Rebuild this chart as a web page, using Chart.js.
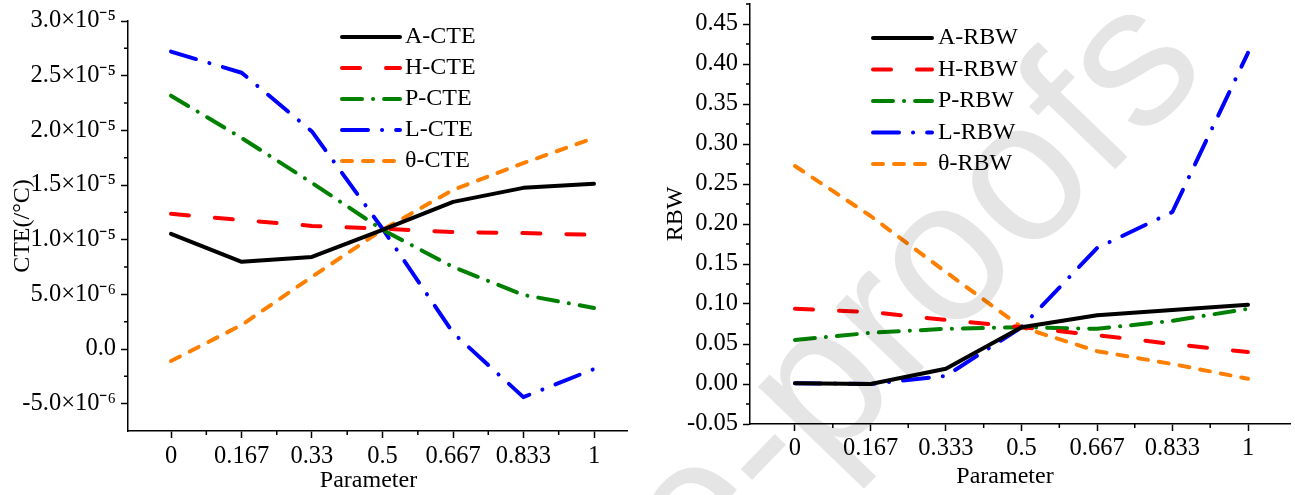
<!DOCTYPE html>
<html>
<head>
<meta charset="utf-8">
<title>CTE and RBW vs Parameter</title>
<script src="https://cdn.jsdelivr.net/npm/chart.js@4.4.1/dist/chart.umd.min.js"></script>
<style>
  body { margin: 0; background: #fff; width: 1295px; height: 495px; overflow: hidden; position: relative; }
  #cteChart { position: absolute; left: 0; top: 0; }
  #rbwChart { position: absolute; left: 645px; top: 0; }
  #mark { position: absolute; left: 0; top: 0; pointer-events: none; }
</style>
</head>
<body>

<canvas id="cteChart" width="645" height="495"></canvas>
<canvas id="rbwChart" width="650" height="495"></canvas>
<canvas id="mark" width="1295" height="495"></canvas>

<script>
// parameter positions and their printed tick labels
const params = [0, 0.167, 0.333, 0.5, 0.667, 0.833, 1];
const cteXLabels = ['0', '0.167', '0.33', '0.5', '0.667', '0.833', '1'];
const rbwXLabels = ['0', '0.167', '0.333', '0.5', '0.667', '0.833', '1'];

// y ticks
const cteYTicks = [-5e-6, 0, 5e-6, 1e-5, 1.5e-5, 2e-5, 2.5e-5, 3e-5];
const rbwYTicks = [-0.05, 0, 0.05, 0.1, 0.15, 0.2, 0.25, 0.3, 0.35, 0.4, 0.45];

// CTE (/°C)
const cteA = [1.053e-5, 7.97e-6, 8.42e-6, 1.09e-5, 1.346e-5, 1.474e-5, 1.511e-5];
const cteH = [1.236e-5, 1.18e-5, 1.126e-5, 1.10e-5, 1.07e-5, 1.06e-5, 1.044e-5];
const cteP = [2.317e-5, 1.93e-5, 1.52e-5, 1.09e-5, 7.5e-6, 4.95e-6, 3.75e-6];
const cteL = [2.72e-5, 2.527e-5, 1.99e-5, 1.10e-5, 1.47e-6, -4.4e-6, -1.83e-6];
const cteT = [-1.1e-6, 2.2e-6, 6.6e-6, 1.09e-5, 1.456e-5, 1.70e-5, 1.93e-5];

// RBW
const rbwA = [0.001, 0.0, 0.019, 0.071, 0.086, 0.0925, 0.099];
const rbwH = [0.094, 0.09, 0.08, 0.071, 0.061, 0.05, 0.04];
const rbwP = [0.055, 0.064, 0.069, 0.071, 0.069, 0.079, 0.094];
const rbwL = [0.001, 0.0, 0.01, 0.071, 0.17, 0.215, 0.414];
const rbwT = [0.2725, 0.21, 0.14, 0.071, 0.041, 0.025, 0.0065];

const watermarkText = 'Journal Pre-proofs';

const FONT = '"Liberation Serif", "Times New Roman", serif';

const sup = {'-': '\u207B', '0': '\u2070', '1': '\u00B9', '2': '\u00B2', '3': '\u00B3',
  '4': '\u2074', '5': '\u2075', '6': '\u2076', '7': '\u2077', '8': '\u2078', '9': '\u2079'};

function sci(v) {
  if (Math.abs(v) < 1e-12) return '0.0';
  const e = Math.floor(Math.log10(Math.abs(v)) + 1e-9);
  const m = (v / Math.pow(10, e)).toFixed(1);
  return m + '\u00D710' + String(e).split('').map(c => sup[c]).join('');
}

function pts(arr) {
  return params.map((p, i) => ({x: p, y: arr[i]}));
}

function midpoints(a) {
  return a.slice(1).map((v, i) => (v + a[i]) / 2);
}

const styles = {
  A: {color: '#000000', dash: []},
  H: {color: '#FF0000', dash: [18, 26]},
  P: {color: '#008000', dash: [20, 11, 0.1, 11]},
  L: {color: '#0000FF', dash: [26, 14, 0.1, 14]},
  T: {color: '#FF8000', dash: [10, 11]}
};

function ds(label, key, arr) {
  return {
    label: label,
    data: pts(arr),
    borderColor: styles[key].color,
    backgroundColor: styles[key].color,
    borderDash: styles[key].dash,
    borderWidth: 4,
    borderCapStyle: 'round',
    borderJoinStyle: 'round',
    pointRadius: 0,
    tension: 0,
    fill: false
  };
}

// legend drawn inside the plot, with the dash of each line
const lineLegend = {
  id: 'lineLegend',
  afterDatasetsDraw(chart, args, opts) {
    const ctx = chart.ctx;
    ctx.save();
    ctx.font = '24px ' + FONT;
    ctx.textBaseline = 'middle';
    ctx.textAlign = 'left';
    chart.data.datasets.forEach((d, i) => {
      const y = opts.top + i * opts.gap;
      ctx.strokeStyle = d.borderColor;
      ctx.lineWidth = d.borderWidth;
      ctx.lineCap = 'round';
      ctx.setLineDash(d.borderDash);
      ctx.beginPath();
      ctx.moveTo(opts.lineStart, y);
      ctx.lineTo(opts.lineEnd, y);
      ctx.stroke();
      ctx.setLineDash([]);
      ctx.fillStyle = '#000';
      ctx.fillText(d.label, opts.textX, y);
    });
    ctx.restore();
  }
};

// short minor ticks between the labelled ones
const minorTicks = {
  id: 'minorTicks',
  afterDraw(chart, args, opts) {
    const ctx = chart.ctx, xs = chart.scales.x, ys = chart.scales.y, area = chart.chartArea;
    ctx.save();
    ctx.strokeStyle = '#000';
    ctx.lineWidth = 1.5;
    ctx.beginPath();
    opts.x.forEach(v => {
      const px = xs.getPixelForValue(v);
      ctx.moveTo(px, area.bottom);
      ctx.lineTo(px, area.bottom + 4);
    });
    opts.y.forEach(v => {
      if (v < ys.min || v > ys.max) return;
      const py = ys.getPixelForValue(v);
      ctx.moveTo(area.left, py);
      ctx.lineTo(area.left - 4, py);
    });
    ctx.stroke();
    ctx.restore();
  }
};

function makeChart(id, cfg) {
  const tickFont = {family: FONT, size: 24.5};
  const titleFont = {family: FONT, size: 24};
  return new Chart(document.getElementById(id), {
    type: 'line',
    data: {datasets: cfg.datasets},
    plugins: [lineLegend, minorTicks],
    options: {
      responsive: false,
      animation: false,
      layout: {padding: cfg.padding},
      plugins: {
        legend: {display: false},
        tooltip: {enabled: false},
        lineLegend: cfg.legend,
        minorTicks: {x: midpoints(params), y: cfg.minorY}
      },
      scales: {
        x: {
          type: 'linear',
          min: cfg.xMin, max: cfg.xMax,
          afterBuildTicks: s => { s.ticks = params.map(v => ({value: v})); },
          afterFit: s => { s.height = cfg.xHeight; s.paddingLeft = 0; s.paddingRight = 0; },
          ticks: {
            autoSkip: false, maxRotation: 0, minRotation: 0, color: '#000',
            font: tickFont, padding: cfg.xTickPad,
            callback: (v, i) => cfg.xLabels[i]
          },
          grid: {drawOnChartArea: false, tickLength: 7, tickWidth: 1.5, tickColor: '#000'},
          border: {display: true, color: '#000', width: 1.5},
          title: {display: true, text: cfg.xTitle, color: '#000', font: titleFont, padding: {top: 0, bottom: cfg.xTitlePad}}
        },
        y: {
          type: 'linear',
          min: cfg.yMin, max: cfg.yMax,
          afterBuildTicks: s => { s.ticks = cfg.yTicks.map(v => ({value: v})); },
          afterFit: s => { s.width = cfg.yWidth; s.paddingTop = 0; s.paddingBottom = 0; },
          ticks: {
            autoSkip: false, color: '#000', font: tickFont, padding: 5,
            callback: cfg.yFormat
          },
          grid: {drawOnChartArea: false, tickLength: 7, tickWidth: 1.5, tickColor: '#000'},
          border: {display: true, color: '#000', width: 1.5},
          title: {display: true, text: cfg.yTitle, color: '#000', font: titleFont, padding: {top: cfg.yTitlePad, bottom: 0}}
        }
      }
    }
  });
}

makeChart('cteChart', {
  datasets: [ds('A-CTE', 'A', cteA), ds('H-CTE', 'H', cteH), ds('P-CTE', 'P', cteP),
             ds('L-CTE', 'L', cteL), ds('\u03B8-CTE', 'T', cteT)],
  padding: {top: 21, right: 18, left: 0, bottom: 0},
  xMin: -0.1017, xMax: 1.078, xHeight: 64, xTickPad: 4, xLabels: cteXLabels,
  xTitle: 'Parameter   ', xTitlePad: 0,
  yMin: -7.5e-6, yMax: 3e-5, yTicks: cteYTicks, yWidth: 128,
  minorY: midpoints(cteYTicks),
  yFormat: v => sci(v),
  yTitle: 'CTE(/\u00B0C)', yTitlePad: 8,
  legend: {top: 37, gap: 31, lineStart: 342, lineEnd: 400, textX: 405}
});

makeChart('rbwChart', {
  datasets: [ds('A-RBW', 'A', rbwA), ds('H-RBW', 'H', rbwH), ds('P-RBW', 'P', rbwP),
             ds('L-RBW', 'L', rbwL), ds('\u03B8-RBW', 'T', rbwT)],
  padding: {top: 4, right: 5, left: 0, bottom: 0},
  xMin: -0.0993, xMax: 1.0927, xHeight: 71, xTickPad: 3, xLabels: rbwXLabels,
  xTitle: 'Parameter     ', xTitlePad: 4,
  yMin: -0.05, yMax: 0.475, yTicks: rbwYTicks, yWidth: 105,
  minorY: midpoints(rbwYTicks).concat([0.475]),
  yFormat: v => v.toFixed(2),
  yTitle: 'RBW', yTitlePad: 16,
  legend: {top: 38, gap: 31.5, lineStart: 228, lineEnd: 287, textX: 293}
});

// faint journal watermark over the right plot
const wm = document.getElementById('mark').getContext('2d');
wm.translate(1211, 70);
wm.rotate(-46 * Math.PI / 180);
wm.font = '200px "Liberation Sans", Arial, sans-serif';
wm.textAlign = 'right';
wm.textBaseline = 'alphabetic';
wm.fillStyle = 'rgba(0,0,0,0.1)';
wm.fillText(watermarkText, 0, 0);
</script>
</body>
</html>
